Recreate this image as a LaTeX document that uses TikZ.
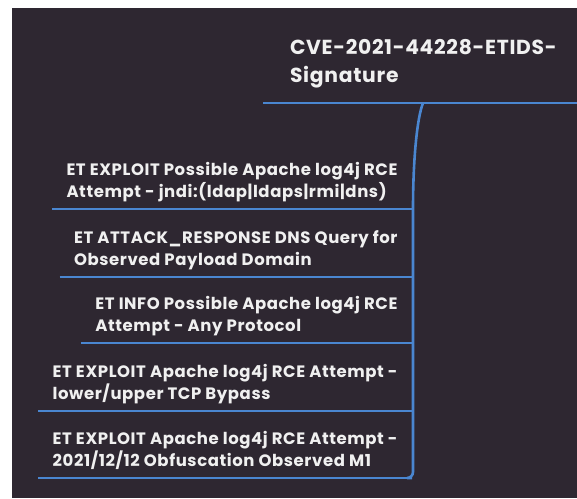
\documentclass[tikz,border=0pt]{standalone}
\usepackage{fontspec}
\setmainfont{Poppins}[LetterSpace=3.5]
\usetikzlibrary{positioning}
\definecolor{mapbg}{RGB}{46,39,49}
\definecolor{mapblue}{RGB}{74,134,208}
\definecolor{maptext}{RGB}{240,240,240}
\tikzset{
		topic/.style={
			text=maptext,
			font=\bfseries\fontsize{20.3}{28}\selectfont,
			align=left,
			inner xsep=27pt,
			inner ysep=17pt,
			text depth=4pt,
			outer sep=0pt,
			anchor=south west
		},
		leaf/.style={
			text=maptext,
			font=\bfseries\fontsize{16.5}{22}\selectfont,
			align=left,
			inner xsep=14.5pt,
			inner ysep=9pt,
			text depth=3pt,
			outer sep=0pt,
			anchor=south east
		},
		branch/.style={draw=mapblue, line width=2.6pt}
	}
\begin{document}
\begin{tikzpicture}[x=1pt, y=-1pt]
	\useasboundingbox (0,0) rectangle (577,498);
	\fill[mapbg] (12,8) rectangle (577,498);
	\node[topic] (root) at (263,103) {CVE-2021-44228-ETIDS-\\Signature};
	\coordinate (rootend) at (577,103);
	\coordinate (fork) at (423,103);
	\node[leaf] (l1) at (412,209) {ET EXPLOIT Possible Apache log4j RCE\\Attempt - jndi:(ldap|ldaps|rmi|dns)};
	\node[leaf] (l2) at (412,277) {ET ATTACK\_RESPONSE DNS Query for\\Observed Payload Domain};
	\node[leaf] (l3) at (412,343) {ET INFO Possible Apache log4j RCE\\Attempt - Any Protocol};
	\node[leaf] (l4) at (412,411) {ET EXPLOIT Apache log4j RCE Attempt -\\lower/upper TCP Bypass};
	\node[leaf] (l5) at (412,478) {ET EXPLOIT Apache log4j RCE Attempt -\\2021/12/12 Obfuscation Observed M1};
	\draw[branch] (root.south west) -- (rootend);
	\foreach \n in {l1,l2,l3,l4,l5}
		\draw[branch] (\n.south west) -- (\n.south east);
	\draw[branch, rounded corners=6pt] (fork) .. controls (417,118) and (413,160) .. (413,215)
		-- (413,478) -- (l5.south east);
\end{tikzpicture}
\end{document}
